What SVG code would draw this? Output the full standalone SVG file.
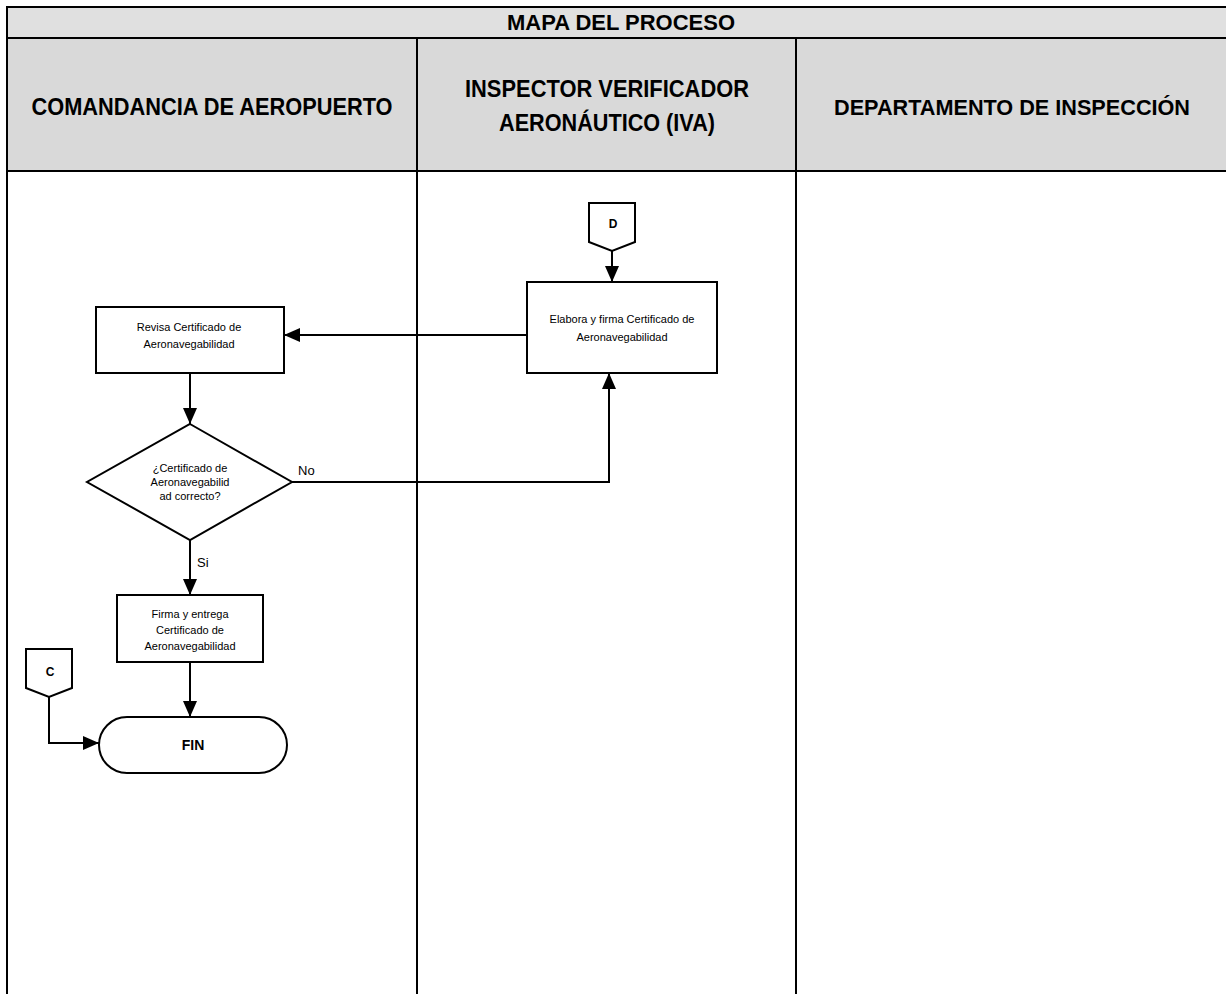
<svg xmlns="http://www.w3.org/2000/svg" width="1226" height="994" viewBox="0 0 1226 994">
<style>
.frame{fill:none;stroke:#000;stroke-width:2}
.hdr{font-family:"Liberation Sans",Arial,sans-serif;font-weight:bold;fill:#000;text-anchor:middle}
.box{fill:#fff;stroke:#000;stroke-width:2}
.t{font-family:"Liberation Sans",Arial,sans-serif;font-size:11px;fill:#000;text-anchor:middle}
.lbl{font-family:"Liberation Sans",Arial,sans-serif;font-size:13px;fill:#000}
.b{font-family:"Liberation Sans",Arial,sans-serif;font-weight:bold;fill:#000;text-anchor:middle}
.c{fill:none;stroke:#000;stroke-width:2}
</style>
<defs>
<marker id="ah" markerUnits="userSpaceOnUse" markerWidth="16" markerHeight="16" viewBox="0 0 16 14" refX="16" refY="7" orient="auto">
<path d="M0,0 L16,7 L0,14 Z" fill="#000"/>
</marker>
</defs>
<rect x="0" y="0" width="1226" height="994" fill="#fff"/>
<g id="header">
<rect x="7" y="7" width="1219" height="31" fill="#e0e0e0"/>
<rect x="7" y="38" width="1219" height="133" fill="#d9d9d9"/>
<line class="frame" x1="7" y1="7" x2="1226" y2="7"/>
<line class="frame" x1="7" y1="38" x2="1226" y2="38"/>
<line class="frame" x1="7" y1="171" x2="1226" y2="171"/>
<line class="frame" x1="7" y1="6" x2="7" y2="994"/>
<line class="frame" x1="417" y1="38" x2="417" y2="994"/>
<line class="frame" x1="796" y1="38" x2="796" y2="994"/>
<text class="hdr" x="621" y="30" font-size="22" textLength="228" lengthAdjust="spacingAndGlyphs">MAPA DEL PROCESO</text>
<text class="hdr" x="212" y="115" font-size="24" textLength="361" lengthAdjust="spacingAndGlyphs">COMANDANCIA DE AEROPUERTO</text>
<text class="hdr" x="607" y="97" font-size="24" textLength="284" lengthAdjust="spacingAndGlyphs">INSPECTOR VERIFICADOR</text>
<text class="hdr" x="607" y="131" font-size="24" textLength="216" lengthAdjust="spacingAndGlyphs">AERONÁUTICO (IVA)</text>
<text class="hdr" x="1012" y="115" font-size="22" textLength="356" lengthAdjust="spacingAndGlyphs">DEPARTAMENTO DE INSPECCIÓN</text>
</g>
<g id="connectors">
<line class="c" x1="612" y1="251" x2="612" y2="282" marker-end="url(#ah)"/>
<line class="c" x1="527" y1="335" x2="284" y2="335" marker-end="url(#ah)"/>
<line class="c" x1="190" y1="373" x2="190" y2="424" marker-end="url(#ah)"/>
<polyline class="c" points="292,482 609,482 609,373" marker-end="url(#ah)"/>
<line class="c" x1="190" y1="540" x2="190" y2="595" marker-end="url(#ah)"/>
<line class="c" x1="190" y1="662" x2="190" y2="717" marker-end="url(#ah)"/>
<polyline class="c" points="49,697 49,743 99,743" marker-end="url(#ah)"/>
<text class="lbl" x="298" y="475">No</text>
<text class="lbl" x="197" y="567">Si</text>
</g>
<g id="connD">
<path class="box" d="M589,203 H635 V242 L612,251 L589,242 Z"/>
<text class="b" x="613" y="228" font-size="12">D</text>
</g>
<g id="elabora">
<rect class="box" x="527" y="282" width="190" height="91"/>
<text class="t" x="622" y="323">Elabora y firma Certificado de</text>
<text class="t" x="622" y="341">Aeronavegabilidad</text>
</g>
<g id="revisa">
<rect class="box" x="96" y="307" width="188" height="66"/>
<text class="t" x="189" y="331">Revisa Certificado de</text>
<text class="t" x="189" y="348">Aeronavegabilidad</text>
</g>
<g id="decision">
<path class="box" d="M190,424 L292,482 L190,540 L87,482 Z"/>
<text class="t" x="190" y="472">¿Certificado de</text>
<text class="t" x="190" y="486">Aeronavegabilid</text>
<text class="t" x="190" y="500">ad correcto?</text>
</g>
<g id="firma">
<rect class="box" x="117" y="595" width="146" height="67"/>
<text class="t" x="190" y="618">Firma y entrega</text>
<text class="t" x="190" y="634">Certificado de</text>
<text class="t" x="190" y="650">Aeronavegabilidad</text>
</g>
<g id="connC">
<path class="box" d="M26,649 H72 V688 L49,697 L26,688 Z"/>
<text class="b" x="50" y="676" font-size="12">C</text>
</g>
<g id="fin">
<rect class="box" x="99" y="717" width="188" height="56" rx="28" ry="28"/>
<text class="b" x="193" y="750" font-size="14">FIN</text>
</g>
</svg>
